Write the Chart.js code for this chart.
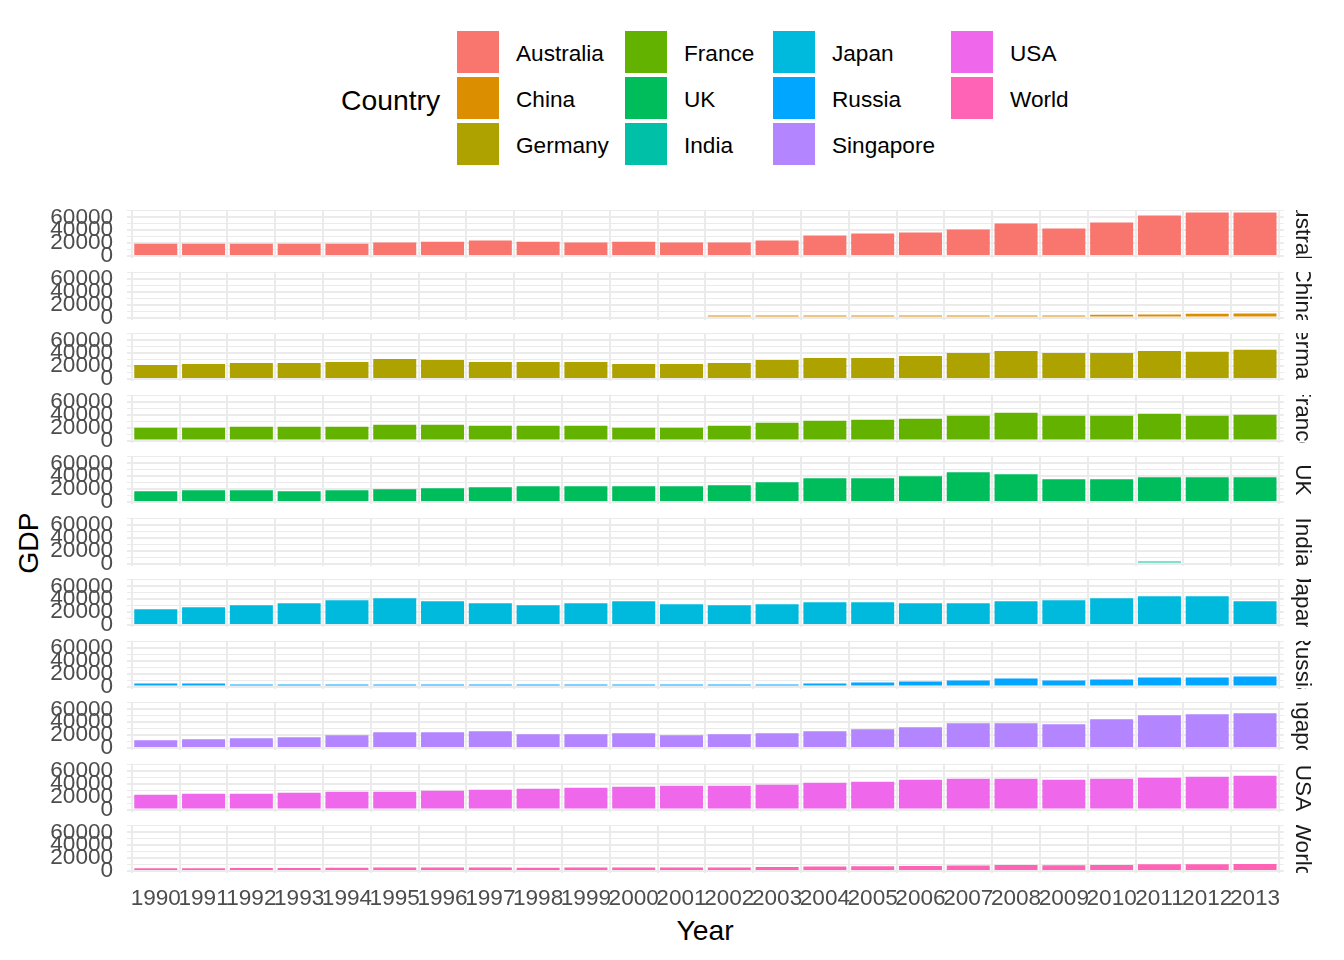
<!DOCTYPE html>
<html>
<head>
<meta charset="utf-8">
<title>GDP by country</title>
<script src="https://cdn.jsdelivr.net/npm/chart.js@4.4.0/dist/chart.umd.min.js"></script>
<style>
    body { margin: 0; background: #fff; }
    #page {
        position: relative;
        width: 1344px;
        height: 960px;
        overflow: hidden;
        font-family: "Liberation Sans", Arial, sans-serif;
    }
    #page canvas { position: absolute; left: 0; }
    .strip { position: absolute; left: 1289px; width: 28px; overflow: hidden; }
    .strip span {
        position: absolute;
        left: 0;
        top: 50%;
        transform: translateY(-50%);
        writing-mode: vertical-rl;
        white-space: nowrap;
        font-size: 22.6px;
        line-height: 28px;
        color: #1A1A1A;
    }
    .legend-title { position: absolute; left: 341px; top: 83px; font-size: 28.3px; line-height: 34px; color: #000; }
    .key { position: absolute; width: 42px; height: 42px; }
    .key-label { position: absolute; font-size: 22.6px; line-height: 26px; color: #000; white-space: nowrap; }
    .axis-title { position: absolute; font-size: 28.3px; line-height: 34px; color: #000; white-space: nowrap; }
</style>
</head>
<body>
<div id="page"></div>
<script>
// ---- data ----
const years = [1990, 1991, 1992, 1993, 1994, 1995, 1996, 1997, 1998, 1999, 2000, 2001,
               2002, 2003, 2004, 2005, 2006, 2007, 2008, 2009, 2010, 2011, 2012, 2013];

const countries = ['Australia', 'China', 'Germany', 'France', 'UK', 'India',
                   'Japan', 'Russia', 'Singapore', 'USA', 'World'];

const australia = [19200, 19200, 19200, 19200, 19200, 20800, 22300, 23900, 22300, 20800, 22300, 20800,
                   20800, 23900, 31700, 34800, 36300, 41000, 50400, 42600, 51900, 62800, 67500, 67500];
const china = [null, null, null, null, null, null, null, null, null, null, null, null,
               1700, 1700, 1800, 1800, 1900, 1900, 2900, 3000, 4300, 4600, 5800, 6100];
const germany = [21800, 23400, 24900, 24900, 26500, 31200, 29600, 26500, 26500, 26500, 23400, 23400,
                 24900, 29600, 32700, 32700, 35800, 40500, 43600, 40500, 40500, 43600, 42100, 45200];
const france = [19700, 19700, 21300, 21300, 21300, 24400, 24400, 22800, 22800, 22800, 19700, 19700,
                22800, 27500, 30600, 32200, 33700, 38400, 43100, 38400, 38400, 41500, 38400, 40000];
const uk = [16600, 18200, 18200, 16600, 18200, 19700, 21300, 22800, 24400, 24400, 24400, 24400,
            26000, 30600, 36900, 36900, 40000, 46200, 43100, 35300, 35300, 38400, 38400, 38400];
const india = [null, null, null, null, null, null, null, null, null, null, null, null,
               null, null, null, null, null, null, null, null, null, 2000, null, null];
const japan = [24400, 27500, 30600, 33700, 38400, 41500, 36900, 33700, 30600, 33700, 36900, 32200,
               30600, 32200, 35300, 35300, 33700, 33700, 36900, 38400, 41500, 44700, 44700, 36900];
const russia = [4700, 4700, 3100, 3100, 3100, 3100, 3100, 3100, 3100, 2000, 3100, 3100,
                3100, 3100, 4700, 6200, 7800, 9300, 12500, 9300, 10900, 14000, 14000, 15600];
const singapore = [11900, 13500, 15100, 16600, 19700, 24400, 24400, 26000, 21300, 21300, 22800, 19700,
                   21300, 22800, 26000, 29100, 32200, 38400, 38400, 36900, 44700, 50900, 52400, 54000];
const usa = [22800, 24400, 24400, 26000, 27500, 27500, 29100, 30600, 32200, 33700, 35300, 36900,
             36900, 38400, 41500, 43100, 46200, 47800, 47800, 46200, 47800, 49300, 50900, 52400];
const world = [4300, 4400, 4700, 4700, 4900, 5400, 5400, 5300, 5200, 5300, 5500, 5400,
               5500, 6100, 6800, 7300, 7800, 8700, 9400, 8800, 9500, 10400, 10600, 10700];

const seriesByCountry = [australia, china, germany, france, uk, india, japan, russia, singapore, usa, world];

const yTickLabels = [0, 20000, 40000, 60000];
const yGridValues = [0, 10000, 20000, 30000, 40000, 50000, 60000, 70000];

const colors = ['#F8766D', '#DB8E00', '#AEA200', '#64B200', '#00BD5C', '#00C1A7',
                '#00BADE', '#00A6FF', '#B385FF', '#EF67EB', '#FF63B6'];

// ---- layout (pixels) ----
const FONT = '"Liberation Sans", Arial, sans-serif';
const PAGE_W = 1344;
const PANEL_LEFT = 127.1;
const PANEL_RIGHT = 1283.7;
const FIRST_ZERO = 256;
const PANEL_STEP = 61.5;
const Y_MIN = -3400;
const Y_MAX = 70900;
const PX_PER_UNIT = 0.6444 / 1000;
const PANEL_H = (Y_MAX - Y_MIN) * PX_PER_UNIT;
const X_AXIS_H = 44;

const page = document.getElementById('page');

function addText(cls, text, css) {
    const el = document.createElement('div');
    el.className = cls;
    el.textContent = text;
    Object.assign(el.style, css);
    page.appendChild(el);
    return el;
}

// legend (filled by column, 3 rows)
addText('legend-title', 'Country', {});
const keyCols = [457, 625, 773, 951];
const keyRows = [31, 77, 123];
countries.forEach((name, i) => {
    const col = Math.floor(i / 3);
    const row = i % 3;
    const key = document.createElement('div');
    key.className = 'key';
    key.style.left = keyCols[col] + 'px';
    key.style.top = keyRows[row] + 'px';
    key.style.background = colors[i];
    page.appendChild(key);
    addText('key-label', name, { left: (keyCols[col] + 59) + 'px', top: (keyRows[row] + 10) + 'px' });
});

addText('axis-title', 'GDP', { left: '28px', top: '543px', transform: 'translate(-50%, -50%) rotate(-90deg)' });
addText('axis-title', 'Year', { left: '705px', top: '930px', transform: 'translate(-50%, -50%)' });

// the layout would otherwise reserve room for half a label above/below the panel
function noLabelPadding(s) {
    s.paddingTop = 0;
    s.paddingBottom = 0;
    s.paddingLeft = 0;
    s.paddingRight = 0;
}

// one small chart per facet
countries.forEach((name, i) => {
    const isLast = i === countries.length - 1;
    const zero = FIRST_ZERO + i * PANEL_STEP;
    const panelTop = zero - Y_MAX * PX_PER_UNIT;
    const canvasTop = Math.floor(panelTop) - 4;
    const padTop = panelTop - canvasTop;
    const canvasH = Math.ceil(padTop + PANEL_H + 4 + (isLast ? X_AXIS_H : 0));
    const padBottom = canvasH - padTop - PANEL_H - (isLast ? X_AXIS_H : 0);

    const canvas = document.createElement('canvas');
    canvas.width = PAGE_W;
    canvas.height = canvasH;
    canvas.style.top = canvasTop + 'px';
    page.appendChild(canvas);

    const strip = document.createElement('div');
    strip.className = 'strip';
    strip.style.top = panelTop + 'px';
    strip.style.height = PANEL_H + 'px';
    const label = document.createElement('span');
    label.textContent = name;
    strip.appendChild(label);
    page.appendChild(strip);

    new Chart(canvas, {
        type: 'bar',
        data: {
            datasets: [{
                label: name,
                data: years.map((yr, k) => ({ x: yr, y: seriesByCountry[i][k] })),
                backgroundColor: colors[i],
                borderWidth: 0,
                barPercentage: 0.9,
                categoryPercentage: 1.0,
                minBarLength: 2
            }]
        },
        options: {
            responsive: false,
            maintainAspectRatio: false,
            animation: false,
            layout: { padding: { left: 0, right: PAGE_W - PANEL_RIGHT, top: padTop, bottom: padBottom } },
            plugins: { legend: { display: false }, tooltip: { enabled: false } },
            scales: {
                x: {
                    type: 'linear',
                    offset: false,
                    min: years[0] - 0.6,
                    max: years[years.length - 1] + 0.6,
                    bounds: 'data',
                    afterBuildTicks: s => { s.ticks = years.map(v => ({ value: v })); },
                    afterFit: s => {
                        s.height = isLast ? X_AXIS_H : 0;
                        noLabelPadding(s);
                    },
                    ticks: {
                        display: isLast,
                        autoSkip: false,
                        maxRotation: 0,
                        padding: 12,
                        color: '#4D4D4D',
                        font: { family: FONT, size: 22.6 },
                        callback: v => String(v)
                    },
                    grid: { drawTicks: false, color: '#EBEBEB', lineWidth: 2 },
                    border: { display: false }
                },
                y: {
                    min: Y_MIN,
                    max: Y_MAX,
                    bounds: 'data',
                    afterBuildTicks: s => { s.ticks = yGridValues.map(v => ({ value: v })); },
                    afterFit: s => {
                        s.width = PANEL_LEFT;
                        noLabelPadding(s);
                    },
                    ticks: {
                        autoSkip: false,
                        padding: 14,
                        color: '#4D4D4D',
                        font: { family: FONT, size: 22.6 },
                        callback: v => yTickLabels.includes(v) ? String(v) : ''
                    },
                    grid: {
                        drawTicks: false,
                        color: '#EBEBEB',
                        lineWidth: ctx => yTickLabels.includes(ctx.tick.value) ? 2 : 1
                    },
                    border: { display: false }
                }
            }
        }
    });
});
</script>
</body>
</html>
